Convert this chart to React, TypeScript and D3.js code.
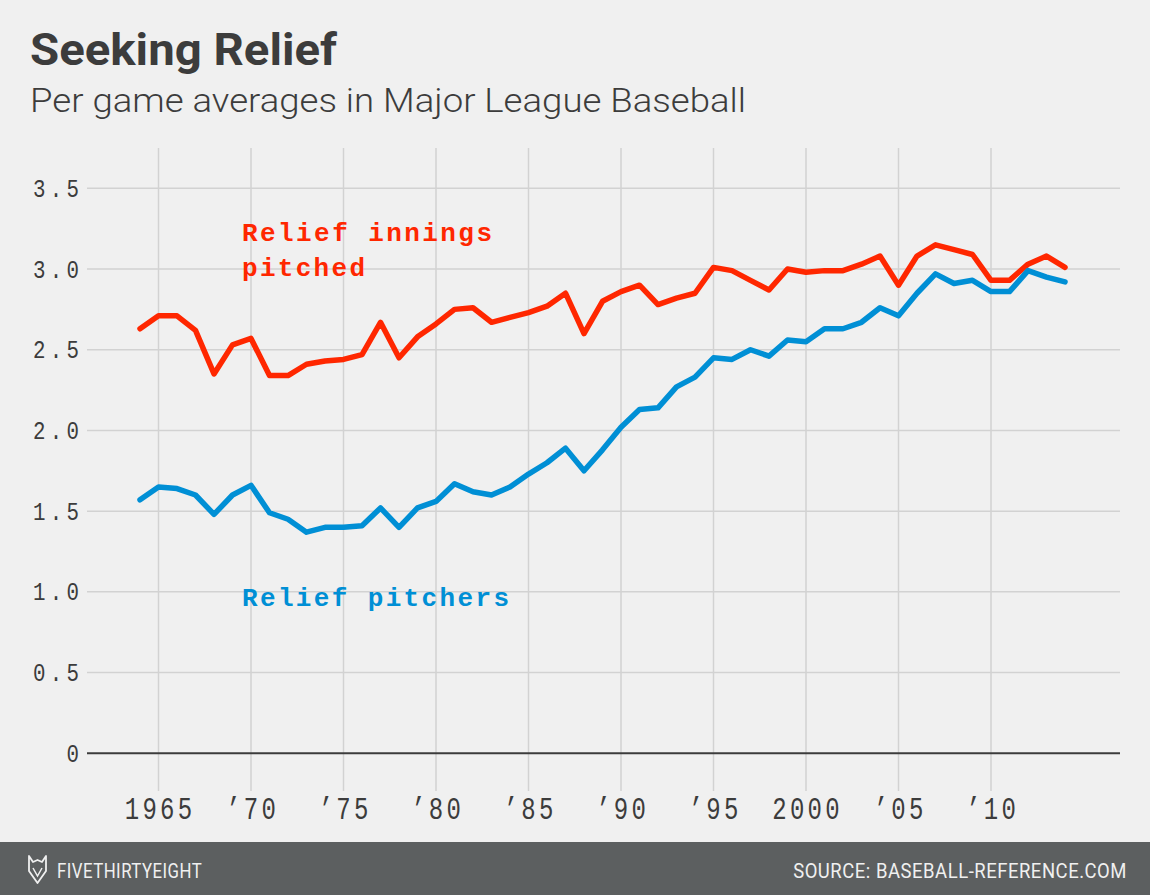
import * as d3 from 'd3';

const years = [
  1964, 1965, 1966, 1967, 1968, 1969, 1970, 1971, 1972, 1973, 1974, 1975, 1976,
  1977, 1978, 1979, 1980, 1981, 1982, 1983, 1984, 1985, 1986, 1987, 1988, 1989,
  1990, 1991, 1992, 1993, 1994, 1995, 1996, 1997, 1998, 1999, 2000, 2001, 2002,
  2003, 2004, 2005, 2006, 2007, 2008, 2009, 2010, 2011, 2012, 2013, 2014,
];

// relief innings pitched per game
const innings = [
  2.63, 2.71, 2.71, 2.62, 2.35, 2.53, 2.57, 2.34, 2.34, 2.41, 2.43, 2.44, 2.47,
  2.67, 2.45, 2.58, 2.66, 2.75, 2.76, 2.67, 2.7, 2.73, 2.77, 2.85, 2.6, 2.8,
  2.86, 2.9, 2.78, 2.82, 2.85, 3.01, 2.99, 2.93, 2.87, 3.0, 2.98, 2.99, 2.99,
  3.03, 3.08, 2.9, 3.08, 3.15, 3.12, 3.09, 2.93, 2.93, 3.03, 3.08, 3.01,
];

// relief pitchers used per game
const pitchers = [
  1.57, 1.65, 1.64, 1.6, 1.48, 1.6, 1.66, 1.49, 1.45, 1.37, 1.4, 1.4, 1.41,
  1.52, 1.4, 1.52, 1.56, 1.67, 1.62, 1.6, 1.65, 1.73, 1.8, 1.89, 1.75, 1.88,
  2.02, 2.13, 2.14, 2.27, 2.33, 2.45, 2.44, 2.5, 2.46, 2.56, 2.55, 2.63, 2.63,
  2.67, 2.76, 2.71, 2.85, 2.97, 2.91, 2.93, 2.86, 2.86, 2.99, 2.95, 2.92,
];

const yTicks = [0, 0.5, 1, 1.5, 2, 2.5, 3, 3.5];
const yTickLabels = ['0', '0.5', '1.0', '1.5', '2.0', '2.5', '3.0', '3.5'];
const xTicks = [1965, 1970, 1975, 1980, 1985, 1990, 1995, 2000, 2005, 2010];
const xTickLabels = ['1965', '’70', '’75', '’80', '’85', '’90', '’95', '2000', '’05', '’10'];

const width = 1150;
const height = 895;
const gridLeft = 87;
const gridRight = 1120;
const gridTop = 148;
const gridBottom = 791;

const red = '#ff2700';
const blue = '#008fd5';
const ink = '#3c3c3c';
const mono = '"Liberation Mono", "DejaVu Sans Mono", monospace';
const sans = 'Roboto, "Liberation Sans", sans-serif';

// narrow mono look for the tick labels
const ySx = 0.8;
const yLs = 5.3;
const xSx = 0.75;
const xLs = 4.3;

const x = d3.scaleLinear().domain([1965, 2010]).range([158.5, 991]);
const y = d3.scaleLinear().domain([0, 3.5]).range([753.3, 188.3]);

const line = d3
  .line<number>()
  .x((_, i) => x(years[i]))
  .y((d) => y(d));

const App = () => {
  return (
    <svg
      width={width}
      height={height}
      viewBox={`0 0 ${width} ${height}`}
      style={{ position: 'absolute', left: 0, top: 0, background: '#f0f0f0' }}
    >
      <rect width={width} height={height} fill='#f0f0f0' />

      <text x={30} y={65} fontFamily={sans} fontWeight={700} fontSize={44} fill={ink}
        textLength={307} lengthAdjust='spacingAndGlyphs'>
        Seeking Relief
      </text>
      <text x={30} y={112} fontFamily={sans} fontWeight={300} fontSize={33} fill={ink}
        textLength={716} lengthAdjust='spacingAndGlyphs'>
        Per game averages in Major League Baseball
      </text>

      {/* vertical grid */}
      {xTicks.map((t) => (
        <line key={`vx${t}`} x1={x(t)} x2={x(t)} y1={gridTop} y2={gridBottom}
          stroke='#d2d2d2' strokeWidth={1.5} />
      ))}
      {/* horizontal grid */}
      {yTicks.filter((t) => t > 0).map((t) => (
        <line key={`hy${t}`} x1={gridLeft} x2={gridRight} y1={y(t)} y2={y(t)}
          stroke='#d2d2d2' strokeWidth={1.5} />
      ))}
      <line x1={gridLeft} x2={gridRight} y1={y(0)} y2={y(0)} stroke='#3c3c3c' strokeWidth={2} />

      {yTicks.map((t, i) => (
        <text key={`yl${t}`} transform={`translate(${79 + yLs * ySx},${y(t) + 8.5}) scale(${ySx},1)`}
          textAnchor='end' fontFamily={mono} fontSize={26} fill={ink} letterSpacing={yLs}>
          {yTickLabels[i]}
        </text>
      ))}

      {xTicks.map((t, i) => (
        <text key={`xl${t}`} transform={`translate(${x(t) + (xLs * xSx) / 2},819) scale(${xSx},1)`}
          textAnchor='middle' fontFamily={mono} fontSize={32} fill={ink} letterSpacing={xLs}>
          {xTickLabels[i]}
        </text>
      ))}

      <path d={line(innings) ?? ''} fill='none' stroke={red} strokeWidth={5.5}
        strokeLinejoin='round' strokeLinecap='round' />
      <path d={line(pitchers) ?? ''} fill='none' stroke={blue} strokeWidth={5.5}
        strokeLinejoin='round' strokeLinecap='round' />

      <g fontFamily={mono} fontWeight={700} fontSize={26}>
        <text x={242} y={241} fill={red} textLength={250}>Relief innings</text>
        <text x={242} y={276} fill={red} textLength={123}>pitched</text>
        <text x={242} y={606} fill={blue} textLength={267}>Relief pitchers</text>
      </g>

      {/* footer */}
      <rect x={0} y={842} width={width} height={height - 842} fill='#5c5f60' />
      <path d='M29,856 L33,862 L37.5,860 L42,862 L46,856 L46,871 L37.5,883 L29,871 Z'
        fill='none' stroke='#f0f0f0' strokeWidth={1.8} strokeLinejoin='round' />
      <path d='M33,868 L37.5,876 L42,868' fill='none' stroke='#f0f0f0' strokeWidth={1.5} />
      <text transform='translate(57,878) scale(0.8,1)' fontFamily={sans} fontSize={21}
        fill='#f0f0f0' letterSpacing={0.6}>
        FIVETHIRTYEIGHT
      </text>
      <text transform='translate(1127,878) scale(0.88,1)' textAnchor='end' fontFamily={sans}
        fontSize={21} fill='#f0f0f0' letterSpacing={0.6}>
        SOURCE: BASEBALL-REFERENCE.COM
      </text>
    </svg>
  );
};

export default App;
